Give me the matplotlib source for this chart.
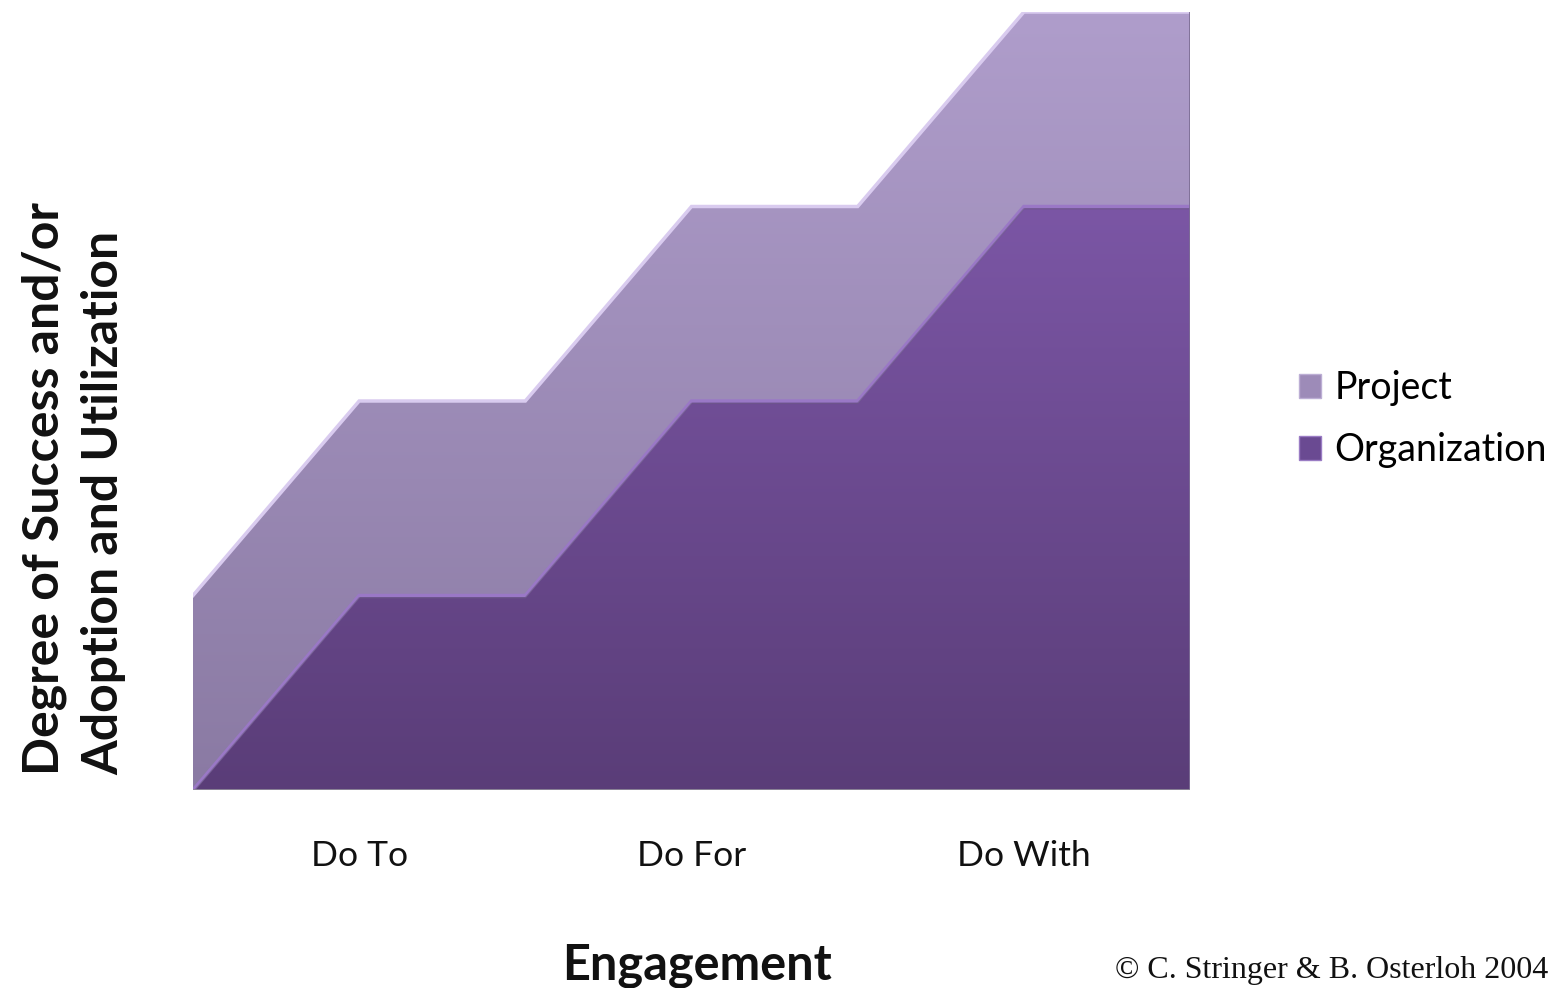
import numpy as np
import matplotlib
matplotlib.use("Agg")
import matplotlib.pyplot as plt
from matplotlib.colors import LinearSegmentedColormap
from matplotlib.patches import Patch

# ---- data ----
x_points = [0, 1, 2, 3, 4, 5, 6]
organization = [0, 1, 1, 2, 2, 3, 3]
project = [1, 1, 1, 1, 1, 1, 1]
tick_positions = [1, 3, 5]
tick_labels = ["Do To", "Do For", "Do With"]
series_names = ["Project", "Organization"]

W, H = 1562, 988
fig = plt.figure(figsize=(W / 100, H / 100), dpi=100)
fig.patch.set_facecolor("white")

ax_left, ax_right, ax_bot, ax_top = 193, 1190, 790, 12
ax = fig.add_axes([ax_left / W, 1 - ax_bot / H, (ax_right - ax_left) / W, (ax_bot - ax_top) / H])
ax.set_facecolor("none")

x = np.array(x_points, dtype=float)
org = np.array(organization, dtype=float)
proj_top = org + np.array(project, dtype=float)
zeros = np.zeros_like(x)


def gradient_fill(y_lo, y_hi, c_top, c_bot, z):
    poly = ax.fill_between(x, y_lo, y_hi, color="none", lw=0, zorder=z)
    cmap = LinearSegmentedColormap.from_list("g", [c_bot, c_top])
    im = ax.imshow(np.linspace(0, 1, 256).reshape(-1, 1), cmap=cmap, aspect="auto",
                   extent=[x.min(), x.max(), y_lo.min(), y_hi.max()], origin="lower",
                   zorder=z, interpolation="bilinear")
    im.set_clip_path(poly.get_paths()[0], transform=ax.transData)
    return poly


gradient_fill(org, proj_top, "#af9dcb", "#8a7aa3", 2)
gradient_fill(zeros, org, "#7b56a5", "#5a3d78", 3)

# bevel highlights / edges
ax.plot(x, proj_top, color="#d9cbef", lw=2.5, zorder=4, solid_joinstyle="miter")
ax.plot(x, org, color="#9a78c6", lw=2.5, zorder=5, solid_joinstyle="miter")
ax.plot(x, org - 0.012, color="#6c5a86", lw=1.0, zorder=5, alpha=0.6)
ax.plot([x.max(), x.max()], [0, proj_top[-1]], color="#7d6e95", lw=2, zorder=5)
ax.plot([x.min(), x.max()], [0, 0], color="#8f8a99", lw=2, zorder=5)

ax.set_xlim(x.min(), x.max())
ax.set_ylim(0, proj_top.max())
for s in ax.spines.values():
    s.set_visible(False)
ax.set_yticks([])
ax.set_xticks(tick_positions)
ax.set_xticklabels(tick_labels, fontsize=25.5, family="Lato", color="#111111")
ax.tick_params(axis="x", length=0, pad=36)

# axis titles
fig.text(697 / W, 1 - 965 / H, "Engagement", ha="center", va="center",
         fontsize=35, fontweight="bold", family="Lato", color="#111111")
fig.text(74 / W, 1 - 775 / H, "Degree of Success and/or\nAdoption and Utilization",
         rotation=90, ha="center", va="bottom", multialignment="left",
         fontsize=36, fontweight="bold", family="Lato", color="#111111", linespacing=1.4)

# legend
handles = [Patch(facecolor="#9d8bb8", edgecolor="#bcaed4", lw=1),
           Patch(facecolor="#6a4a92", edgecolor="#9a7cc4", lw=1)]
fig.legend(handles, series_names, loc="center left", bbox_to_anchor=(1280 / W, 1 - 419 / H),
           frameon=False, prop={"family": "Lato", "size": 27}, handlelength=0.6,
           handleheight=0.6, handletextpad=0.35, labelspacing=0.7, borderpad=0)

fig.text(1548 / W, 1 - 970 / H, "\u00a9 C. Stringer & B. Osterloh 2004", ha="right", va="center",
         fontsize=23, family="Liberation Serif", color="#111111")

fig.savefig("out.png", dpi=100, facecolor="white")
